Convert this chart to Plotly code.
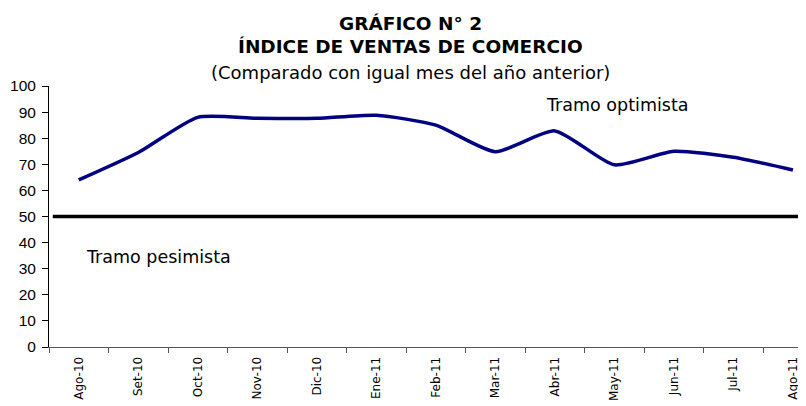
import plotly.graph_objects as go

months = ["Ago-10", "Set-10", "Oct-10", "Nov-10", "Dic-10", "Ene-11", "Feb-11",
          "Mar-11", "Abr-11", "May-11", "Jun-11", "Jul-11", "Ago-11"]
indice = [64.0, 74.5, 88.0, 87.6, 87.6, 88.8, 85.0, 74.8, 82.8, 69.8, 75.0, 72.7, 67.8]
umbral = 50
y_ticks = list(range(0, 101, 10))

wide = "DejaVu Sans, Verdana, sans-serif"
narrow = "Liberation Sans, Arial, sans-serif"
title_x = 0.477

fig = go.Figure()
fig.add_trace(go.Scatter(
    x=months, y=indice, mode="lines",
    line=dict(color="#000080", width=3.5, shape="spline", smoothing=0.6),
    hoverinfo="x+y", showlegend=False,
))

fig.add_shape(type="line", xref="paper", yref="y", x0=0.005, x1=1, y0=umbral, y1=umbral,
              line=dict(color="black", width=3.5))

fig.add_annotation(text="<b>GRÁFICO N° 2</b>", xref="paper", yref="paper",
                   x=title_x, y=1, yshift=63, yanchor="middle", showarrow=False,
                   font=dict(family=wide, size=18.5, color="black"), xanchor="center")
fig.add_annotation(text="<b>ÍNDICE DE VENTAS DE COMERCIO</b>", xref="paper", yref="paper",
                   x=title_x, y=1, yshift=40, yanchor="middle", showarrow=False,
                   font=dict(family=wide, size=18.5, color="black"), xanchor="center")
fig.add_annotation(text="(Comparado con igual mes del año anterior)", xref="paper", yref="paper",
                   x=title_x, y=1, yshift=14, yanchor="middle", showarrow=False,
                   font=dict(family=wide, size=18, color="black"), xanchor="center")

fig.add_annotation(text="Tramo optimista", x=7.82, y=92.7, xref="x", yref="y",
                   showarrow=False, xanchor="left", yanchor="middle",
                   font=dict(family=wide, size=17.5, color="black"))
fig.add_annotation(text="Tramo pesimista", x=0.08, y=34.3, xref="x", yref="y",
                   showarrow=False, xanchor="left", yanchor="middle",
                   font=dict(family=wide, size=17.5, color="black"))

fig.update_layout(
    width=798, height=398,
    margin=dict(l=41, r=0, t=78, b=59),
    paper_bgcolor="white", plot_bgcolor="white",
    font=dict(family=narrow, color="black"),
    xaxis=dict(
        type="category", range=[-0.5, 12.22],
        showgrid=False, showline=True, linecolor="#555555", linewidth=1,
        ticks="outside", tickson="boundaries", ticklen=5, tickcolor="#555555",
        tickangle=-90, ticklabelstandoff=4, tickfont=dict(size=12, family=wide),
    ),
    yaxis=dict(
        range=[0, 100], tickvals=y_ticks, showgrid=False, zeroline=False,
        showline=True, linecolor="black", linewidth=1,
        ticks="outside", ticklen=6, tickcolor="black",
        ticklabelstandoff=3,
        tickfont=dict(size=15.5, family=narrow),
    ),
)

fig.write_html("out.html")
